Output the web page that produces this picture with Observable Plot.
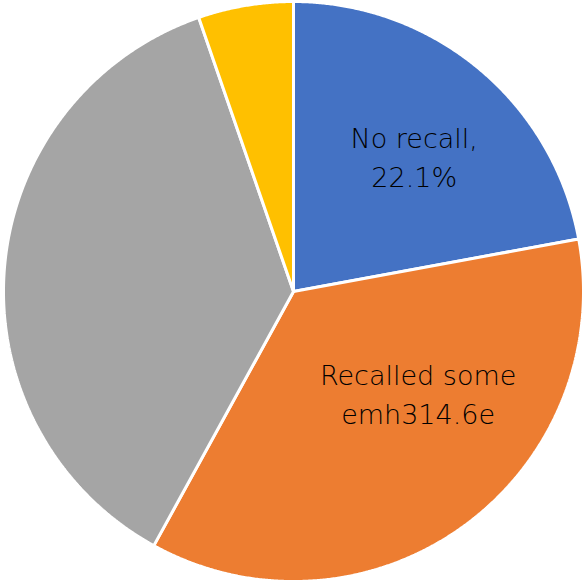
<!DOCTYPE html>
<html>
<head>
<meta charset="utf-8">
<script src="https://cdn.jsdelivr.net/npm/d3@7"></script>
<script src="https://cdn.jsdelivr.net/npm/@observablehq/plot@0.6"></script>
<style>
  html, body { margin: 0; padding: 0; background: #ffffff; }
  #chart { width: 586px; height: 582px; }
</style>
</head>
<body>
<div id="chart"></div>
<script>
// Data (clockwise from 12 o'clock)
const categories = ["No recall", "Recalled some", "Other", "Small"];
const shares = [22.1, 35.9, 36.7, 5.3];
const colors = ["#4472C4", "#ED7D31", "#A5A5A5", "#FFC000"];
const labelLines = [["No recall,", "22.1%"], ["Recalled some", "emh314.6e"], null, null];

const W = 586, H = 582;
const R = 290;

const rows = categories.map((c, i) => ({category: c, value: shares[i]}));
const arcs = d3.pie().value(d => d.value).sort(null).startAngle(0).endAngle(2 * Math.PI)(rows);

// Polygon outline for each slice, in data units (centre = 0,0; y up)
const pts = [];
arcs.forEach(a => {
  const n = Math.max(2, Math.ceil((a.endAngle - a.startAngle) / 0.005));
  pts.push({category: a.data.category, x: 0, y: 0});
  for (let k = 0; k <= n; k++) {
    const t = a.startAngle + (a.endAngle - a.startAngle) * k / n;
    pts.push({category: a.data.category, x: R * Math.sin(t), y: R * Math.cos(t)});
  }
  pts.push({category: a.data.category, x: 0, y: 0});
});

// Label anchors (polar, derived from each slice's angles)
const labels = [];
arcs.forEach((a, i) => {
  if (!labelLines[i]) return;
  const mid = (a.startAngle + a.endAngle) / 2;
  const ang = i === 1 ? mid - 0.267 : mid + 0.03;
  const rr = i === 1 ? 0.552 * R : 0.628 * R;
  labels.push({text: labelLines[i].join("\n"), x: rr * Math.sin(ang), y: rr * Math.cos(ang)});
});

const chart = Plot.plot({
  width: W,
  height: H,
  margin: 0,
  x: {domain: [-293, 293], range: [0, W], axis: null},
  y: {domain: [-291, 291], range: [H, 0], axis: null},
  color: {domain: categories, range: colors},
  style: {background: "#ffffff", fontFamily: "'DejaVu Sans', sans-serif"},
  marks: [
    Plot.line(pts, {
      x: "x", y: "y", z: "category",
      fill: "category",
      stroke: "#ffffff",
      strokeWidth: 3,
      strokeLinejoin: "miter",
      curve: "linear"
    }),
    Plot.text(labels, {
      x: "x", y: "y", text: "text",
      fontSize: 27,
      lineHeight: 1.444,
      fill: "#000000",
      fontWeight: 200
    })
  ]
});

document.getElementById("chart").appendChild(chart);
</script>
</body>
</html>
